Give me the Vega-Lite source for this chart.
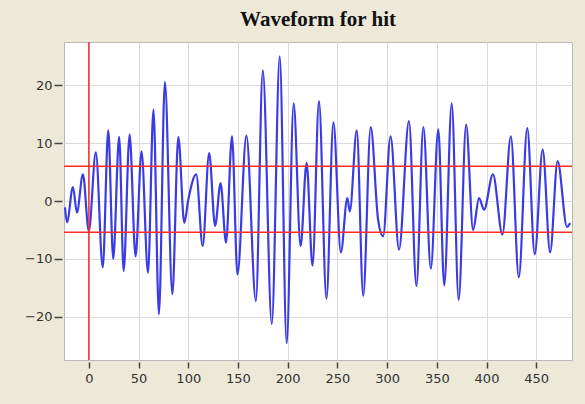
{
  "$schema": "https://vega.github.io/schema/vega-lite/v6.json",
  "width": 508,
  "height": 318,
  "autosize": {"type": "none"},
  "padding": {"left": 64, "top": 42, "right": 13, "bottom": 44},
  "background": "#ece9d8",
  "title": {
    "text": "Waveform for hit",
    "font": "Liberation Serif",
    "fontSize": 21,
    "fontWeight": "bold",
    "color": "#111111",
    "anchor": "middle",
    "offset": 11
  },
  "config": {
    "view": {"stroke": "#b8b8b8", "fill": "#ffffff"},
    "axis": {
      "labelFont": "DejaVu Sans",
      "labelFontSize": 13,
      "labelColor": "#333333",
      "gridColor": "#dadada",
      "gridWidth": 1,
      "tickColor": "#444444",
      "tickWidth": 1.5,
      "domain": false,
      "title": null
    }
  },
  "datasets": {
    "wave": [
      {"x": -24, "y": -1.1}, {"x": -22, "y": -3.7}, {"x": -16, "y": 2.4}, {"x": -12, "y": -2.0},
      {"x": -6, "y": 4.6}, {"x": 0, "y": -5.2}, {"x": 7, "y": 8.4}, {"x": 14, "y": -11.5},
      {"x": 19.5, "y": 12.2}, {"x": 24.5, "y": -10.0}, {"x": 30.5, "y": 11.1}, {"x": 35, "y": -12.1},
      {"x": 41, "y": 11.5}, {"x": 47, "y": -9.6}, {"x": 53, "y": 8.6}, {"x": 59.5, "y": -12.4},
      {"x": 65, "y": 15.8}, {"x": 70.5, "y": -19.6}, {"x": 76.5, "y": 20.6}, {"x": 84, "y": -16.1},
      {"x": 90, "y": 11.1}, {"x": 96, "y": -3.8}, {"x": 100, "y": 0.2}, {"x": 108, "y": 4.6},
      {"x": 114.5, "y": -7.8}, {"x": 121, "y": 8.3}, {"x": 127, "y": -4.3}, {"x": 132.5, "y": 3.1},
      {"x": 138, "y": -7.2}, {"x": 144, "y": 11.2}, {"x": 149.5, "y": -12.7}, {"x": 158.5, "y": 11.3},
      {"x": 168, "y": -17.3}, {"x": 175, "y": 22.6}, {"x": 184, "y": -21.3}, {"x": 192, "y": 25.0},
      {"x": 199, "y": -24.6}, {"x": 206, "y": 16.9}, {"x": 213, "y": -7.8}, {"x": 219, "y": 6.6},
      {"x": 225, "y": -11.2}, {"x": 231.5, "y": 17.3}, {"x": 239, "y": -16.9}, {"x": 246, "y": 13.6},
      {"x": 253.5, "y": -8.9}, {"x": 260, "y": 0.5}, {"x": 262.5, "y": -1.8}, {"x": 269.5, "y": 12.2},
      {"x": 276, "y": -16.4}, {"x": 283.5, "y": 12.8}, {"x": 291, "y": -3.3}, {"x": 296, "y": -6.1},
      {"x": 303.5, "y": 11.2}, {"x": 312, "y": -8.4}, {"x": 322, "y": 13.8}, {"x": 329.5, "y": -14.7},
      {"x": 336.5, "y": 12.8}, {"x": 344, "y": -11.7}, {"x": 351.5, "y": 12.4}, {"x": 357.5, "y": -14.6},
      {"x": 365, "y": 16.9}, {"x": 372, "y": -17.1}, {"x": 379.5, "y": 13.2}, {"x": 386.5, "y": -5.0},
      {"x": 392.5, "y": 0.5}, {"x": 397.5, "y": -1.5}, {"x": 406.5, "y": 4.6}, {"x": 416, "y": -5.8},
      {"x": 424.5, "y": 11.2}, {"x": 432.5, "y": -13.2}, {"x": 441, "y": 12.6}, {"x": 448.5, "y": -9.2},
      {"x": 456.5, "y": 8.9}, {"x": 464, "y": -8.9}, {"x": 471.5, "y": 6.9}, {"x": 481, "y": -4.5},
      {"x": 484, "y": -3.8}
    ],
    "hlines": [{"y": 6.0}, {"y": -5.4}],
    "vlines": [{"x": 0}]
  },
  "layer": [
    {
      "data": {"name": "wave"},
      "mark": {"type": "line", "color": "#3b3be6", "strokeWidth": 2.2, "interpolate": "monotone", "clip": true},
      "encoding": {
        "x": {
          "field": "x", "type": "quantitative",
          "scale": {"domain": [-25, 486], "nice": false, "zero": false},
          "axis": {"values": [0, 50, 100, 150, 200, 250, 300, 350, 400, 450], "tickSize": 6, "offset": 2, "labelPadding": 4}
        },
        "y": {
          "field": "y", "type": "quantitative",
          "scale": {"domain": [-27.5, 27.5], "nice": false, "zero": false},
          "axis": {"values": [-20, -10, 0, 10, 20], "tickSize": 8, "offset": 2, "labelPadding": 2}
        }
      }
    },
    {
      "data": {"name": "hlines"},
      "mark": {"type": "rule", "color": "#ff2a2a", "strokeWidth": 1.5},
      "encoding": {"y": {"field": "y", "type": "quantitative"}}
    },
    {
      "data": {"name": "vlines"},
      "mark": {"type": "rule", "color": "#ff2a2a", "strokeWidth": 1.5},
      "encoding": {"x": {"field": "x", "type": "quantitative"}}
    }
  ]
}
